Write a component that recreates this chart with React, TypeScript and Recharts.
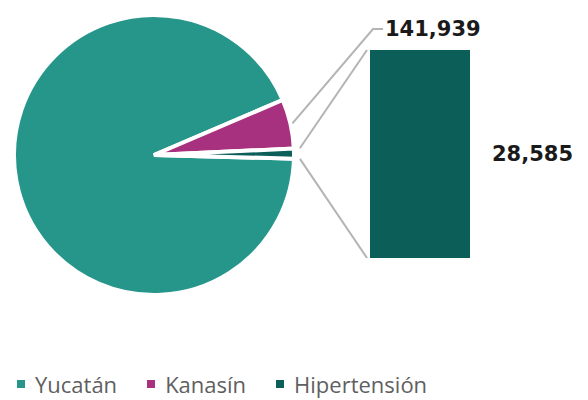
import React from "react";
import { PieChart, Pie, Cell, BarChart, Bar, XAxis, YAxis, LabelList } from "recharts";

const categories = ["Yucatán", "Kanasín", "Hipertensión"];
const values = [2320898, 141939, 28585];
const colors = ["#26968b", "#a8317f", "#0c5e59"];

const pieData = categories.map((name, i) => ({ name, value: values[i] }));
const barData = [{ name: categories[2], value: values[2] }];

const fmt = (v: number) => v.toLocaleString("en-US");

// pie geometry
const CX = 154;
const CY = 155;
const R = 140;
const END_ANGLE = -1.5;
const START_ANGLE = END_ANGLE + 360;

// secondary bar box
const BAR_LEFT = 370;
const BAR_TOP = 50;
const BAR_W = 100;
const BAR_H = 208;

const LABEL_FONT = "'DejaVu Sans', Verdana, sans-serif";

const total = values.reduce((a, b) => a + b, 0);
const hipSweep = (values[2] / total) * 360;

const polar = (angle: number, r: number) => {
  const rad = (angle * Math.PI) / 180;
  return { x: CX + r * Math.cos(rad), y: CY - r * Math.sin(rad) };
};

function KanasinLabel(props: any) {
  const { cx, cy, midAngle, outerRadius, index, value } = props;
  if (index !== 1) return null;
  const rad = (midAngle * Math.PI) / 180;
  const sx = cx + (outerRadius + 2) * Math.cos(rad);
  const sy = cy - (outerRadius + 2) * Math.sin(rad);
  const ex = BAR_LEFT + 3;
  const ey = BAR_TOP - 21;
  return (
    <g>
      <polyline
        points={`${sx},${sy} ${ex},${ey} ${ex + 10},${ey}`}
        fill="none"
        stroke="#b4b4b4"
        strokeWidth={2}
      />
      <text
        x={ex + 12}
        y={ey}
        dominantBaseline="central"
        fontFamily={LABEL_FONT}
        fontWeight="bold"
        fontSize={21}
        fill="#1a1a1a"
      >
        {fmt(value)}
      </text>
    </g>
  );
}

export default function App() {
  const top = polar(END_ANGLE + hipSweep, R + 6);
  const bottom = polar(END_ANGLE, R + 6);
  return (
    <div
      style={{
        position: "absolute",
        left: 0,
        top: 0,
        width: 588,
        height: 400,
        background: "#fff",
      }}
    >
      <svg
        width={588}
        height={400}
        style={{ position: "absolute", left: 0, top: 0 }}
      >
        <line x1={top.x} y1={top.y} x2={BAR_LEFT - 3} y2={BAR_TOP} stroke="#b4b4b4" strokeWidth={2} />
        <line x1={bottom.x} y1={bottom.y} x2={BAR_LEFT - 3} y2={BAR_TOP + BAR_H} stroke="#b4b4b4" strokeWidth={2} />
      </svg>
      <div style={{ position: "absolute", left: 0, top: 0 }}>
        <PieChart width={588} height={330} margin={{ top: 0, right: 0, bottom: 0, left: 0 }}>
          <Pie
            data={pieData}
            dataKey="value"
            nameKey="name"
            cx={CX}
            cy={CY}
            outerRadius={R}
            startAngle={START_ANGLE}
            endAngle={END_ANGLE}
            stroke="#ffffff"
            strokeWidth={4}
            label={KanasinLabel}
            labelLine={false}
            isAnimationActive={false}
          >
            {pieData.map((d, i) => (
              <Cell key={d.name} fill={colors[i]} stroke="#ffffff" strokeWidth={4} />
            ))}
          </Pie>
        </PieChart>
      </div>
      <div style={{ position: "absolute", left: BAR_LEFT, top: BAR_TOP }}>
        <BarChart
          width={BAR_W + 210 - BAR_W}
          height={BAR_H}
          data={barData}
          margin={{ top: 0, right: 210 - BAR_W, bottom: 0, left: 0 }}
          barCategoryGap={0}
        >
          <XAxis dataKey="name" hide />
          <YAxis hide domain={[0, "dataMax"]} />
          <Bar dataKey="value" fill={colors[2]} isAnimationActive={false}>
            <LabelList
              dataKey="value"
              position="right"
              offset={22}
              formatter={(v: any) => fmt(Number(v))}
              style={{
                fontFamily: LABEL_FONT,
                fontWeight: "bold",
                fontSize: 21,
                fill: "#1a1a1a",
              }}
            />
          </Bar>
        </BarChart>
      </div>
      <div
        style={{
          position: "absolute",
          left: 17,
          top: 370,
          height: 28,
          display: "flex",
          alignItems: "center",
          fontFamily: "'Open Sans', sans-serif",
          fontSize: 22,
          lineHeight: "28px",
          color: "#5f5f5f",
        }}
      >
        {categories.map((c, i) => (
          <div key={c} style={{ display: "flex", alignItems: "center", marginRight: 30 }}>
            <span
              style={{
                display: "inline-block",
                width: 8,
                height: 8,
                background: colors[i],
                marginRight: 10,
              }}
            />
            <span>{c}</span>
          </div>
        ))}
      </div>
    </div>
  );
}
